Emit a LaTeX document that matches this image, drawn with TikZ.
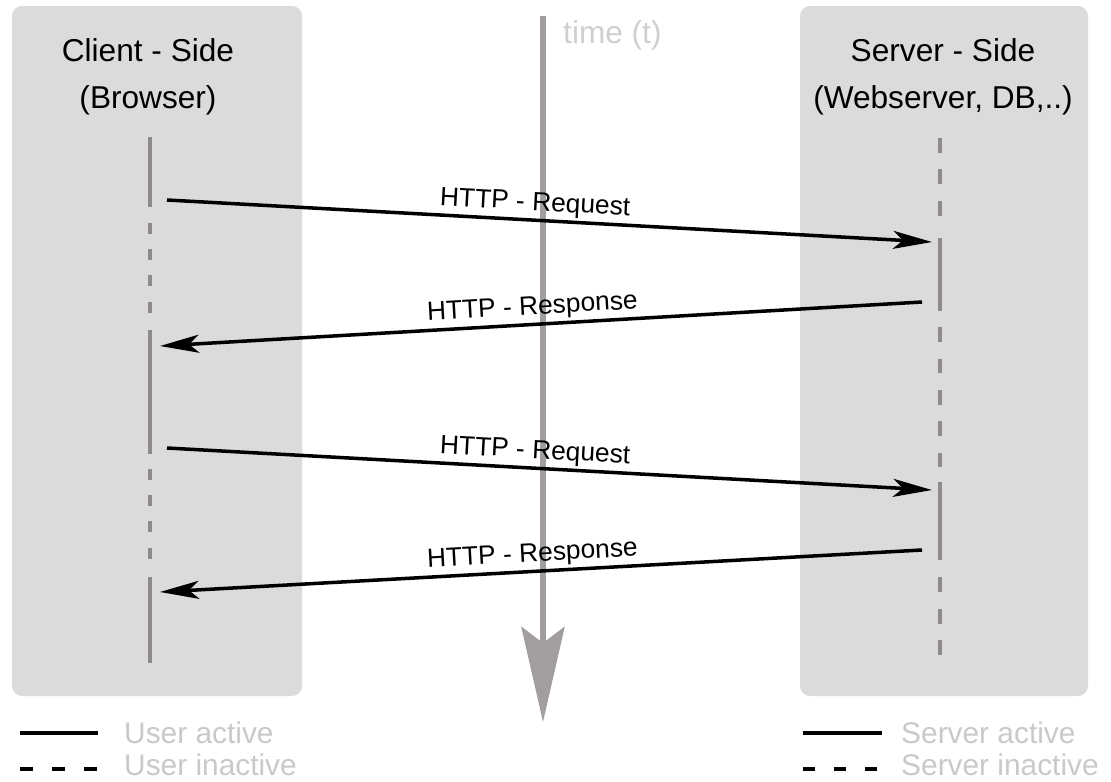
\documentclass[tikz,border=0pt]{standalone}
\usepackage{fontspec}
\setmainfont{Liberation Sans}
\usetikzlibrary{arrows.meta}
\definecolor{panelgray}{HTML}{DCDBDB}
\definecolor{lifegray}{HTML}{8F8B8C}
\definecolor{timegray}{HTML}{A29D9E}
\definecolor{timetext}{HTML}{CFCFCF}
\definecolor{legendgray}{HTML}{C9C9C9}

\begin{document}
\begin{tikzpicture}[x=0.02cm,y=-0.02cm,
                    >={Stealth[length=0.78cm,width=0.36cm,inset=0.2cm]},
                    font=\fontsize{15}{18}\selectfont]
  \tikzstyle{panel}=[fill=panelgray,draw=none,rounded corners=0.2cm]
  \tikzstyle{head}=[align=center,font=\fontsize{18}{26.6}\selectfont]
  \tikzstyle{msg}=[->,line width=2pt]
  \tikzstyle{lbl}=[above,sloped,inner sep=1.5pt]
  \tikzstyle{active}=[draw=lifegray,line width=2.2pt]
  \tikzstyle{clientoff}=[active,dash pattern=on 0.22cm off 0.305cm]
  \tikzstyle{serveroff}=[active,dash pattern=on 0.3cm off 0.33cm]
  \tikzstyle{legline}=[line width=2.5pt]
  \tikzstyle{legtext}=[text=legendgray,anchor=base west,font=\fontsize{17}{20}\selectfont]

  \useasboundingbox (0,0) rectangle (1111,781);
  \fill[panel] (12,6) rectangle (302,696);
  \fill[panel] (800,6) rectangle (1088,696);

  \node[head] (client) at (148,77) {Client - Side\\(Browser)};
  \node[head] (server) at (943,77) {Server - Side\\(Webserver, DB,..)};

  % client lifeline
  \draw[active] (150,137) -- (150,207);
  \draw[clientoff] (150,223) -- (150,316);
  \draw[active] (150,330) -- (150,454);
  \draw[clientoff] (150,469) -- (150,563);
  \draw[active] (150,577) -- (150,663);

  % server lifeline
  \draw[serveroff] (940,138) -- (940,220);
  \draw[active] (940,238) -- (940,311);
  \draw[serveroff] (940,327) -- (940,467);
  \draw[active] (940,482) -- (940,560);
  \draw[serveroff] (940,577) -- (940,663);

  % time axis
  \coordinate (t0) at (543,16);
  \coordinate (t1) at (543,722);
  \draw[timegray,line width=3.4pt,-{Stealth[length=1.9cm,width=0.86cm,inset=0.32cm]}] (t0) -- (t1);
  \node[anchor=west,text=timetext,font=\fontsize{18}{20}\selectfont] (time) at (557,35) {time (t)};

  % messages
  \coordinate (req1s) at (167,200);
  \coordinate (req1e) at (932,242);
  \coordinate (res1s) at (922,302);
  \coordinate (res1e) at (160,346);
  \coordinate (req2s) at (167,448);
  \coordinate (req2e) at (932,490);
  \coordinate (res2s) at (922,550);
  \coordinate (res2e) at (160,592);

  \draw[msg] (req1s) -- node[lbl,pos=0.48] {HTTP - Request} (req1e);
  \draw[msg] (res1s) -- node[lbl,pos=0.51] {HTTP - Response} (res1e);
  \draw[msg] (req2s) -- node[lbl,pos=0.48] {HTTP - Request} (req2e);
  \draw[msg] (res2s) -- node[lbl,pos=0.51] {HTTP - Response} (res2e);

  % legend
  \draw[legline] (20,733) -- (98,733);
  \draw[legline,dash pattern=on 0.26cm off 0.38cm] (20,769) -- (98,769);
  \node[legtext] (uact) at (118,743) {User active};
  \node[legtext] (uinact) at (118,775) {User inactive};
  \draw[legline] (803,733) -- (882,733);
  \draw[legline,dash pattern=on 0.24cm off 0.38cm] (803,769) -- (882,769);
  \node[legtext] (sact) at (895,743) {Server active};
  \node[legtext] (sinact) at (895,775) {Server inactive};
\end{tikzpicture}
\end{document}
